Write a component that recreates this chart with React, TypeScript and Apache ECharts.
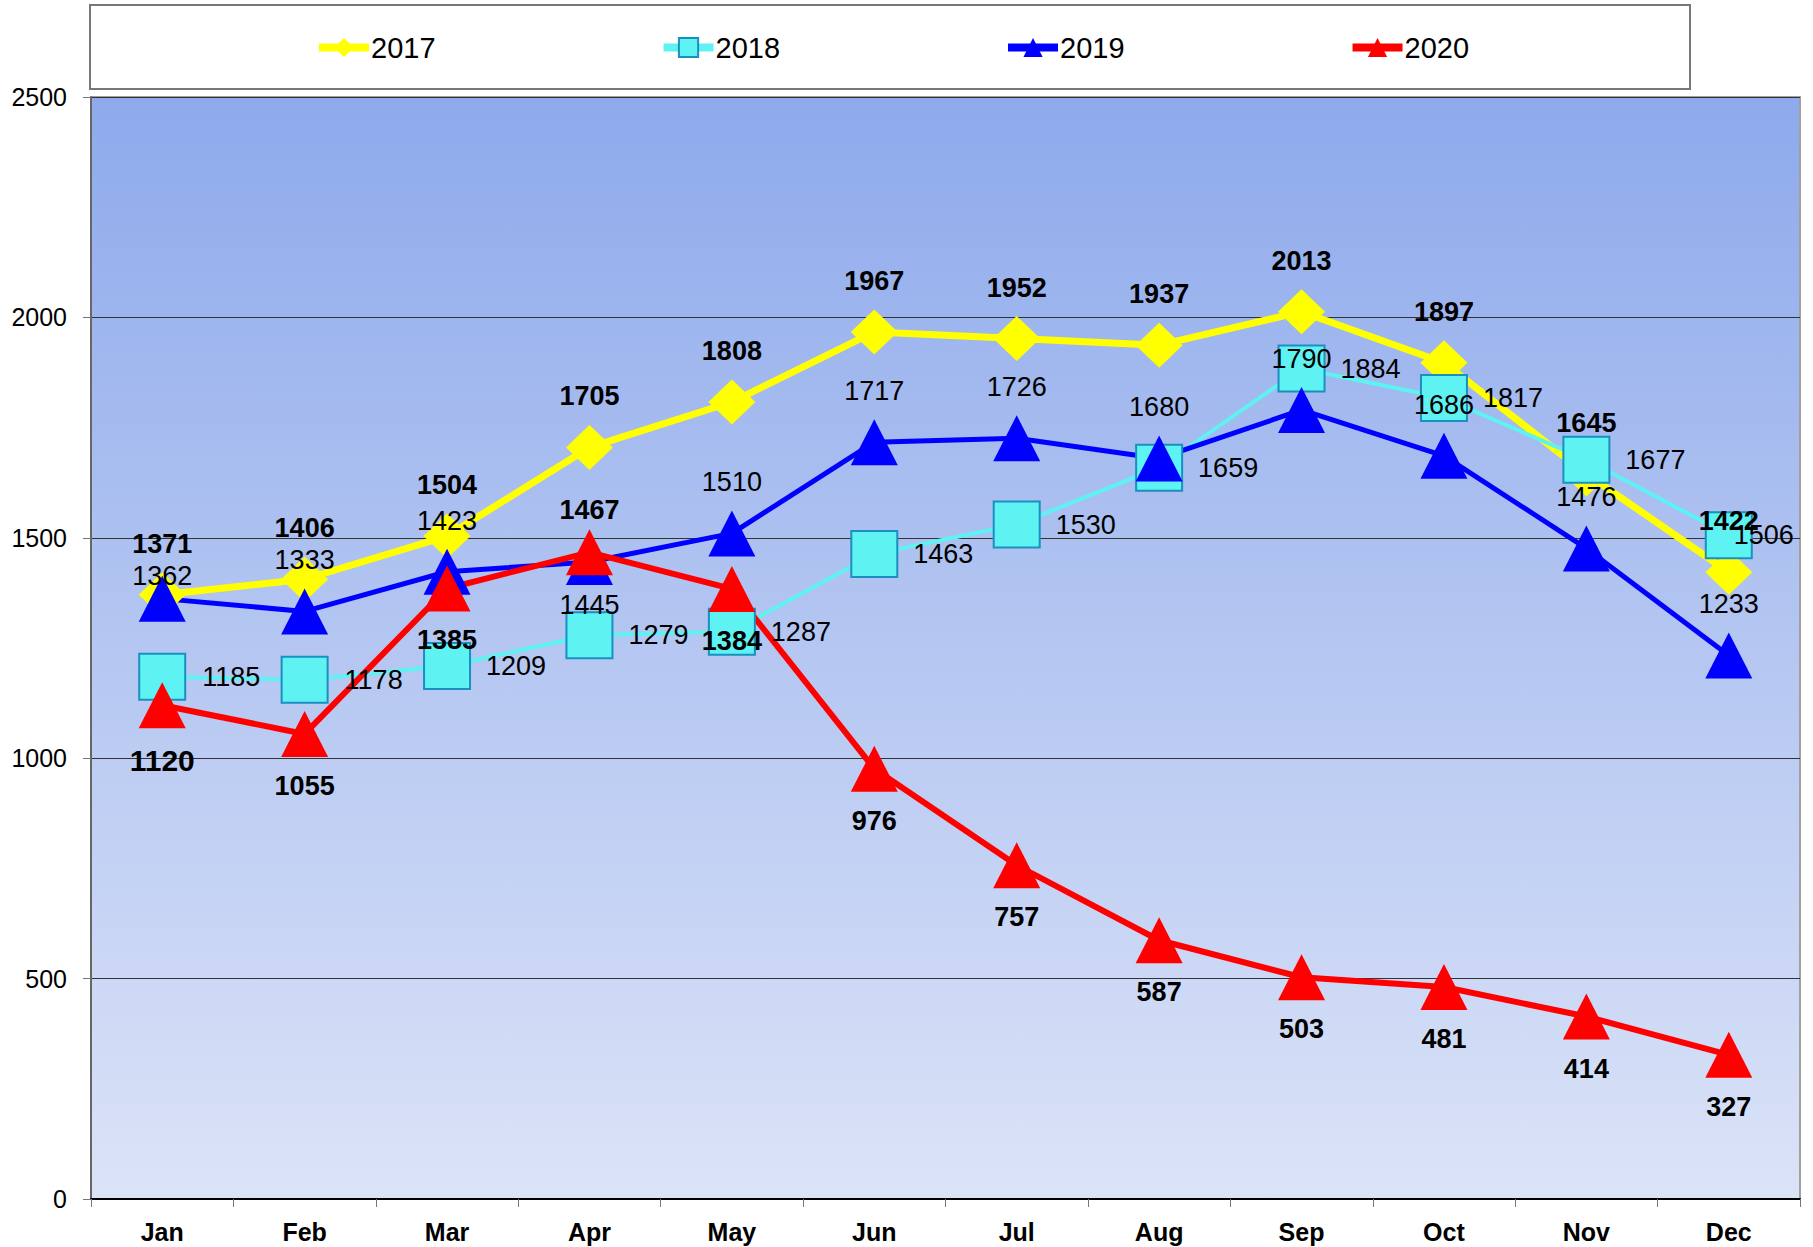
import React, { useEffect, useRef } from "react";
import * as echarts from "echarts";

const months = ["Jan", "Feb", "Mar", "Apr", "May", "Jun", "Jul", "Aug", "Sep", "Oct", "Nov", "Dec"];
const seriesNames = ["2017", "2018", "2019", "2020"];
const v2017 = [1371, 1406, 1504, 1705, 1808, 1967, 1952, 1937, 2013, 1897, 1645, 1422];
const v2018 = [1185, 1178, 1209, 1279, 1287, 1463, 1530, 1659, 1884, 1817, 1677, 1506];
const v2019 = [1362, 1333, 1423, 1445, 1510, 1717, 1726, 1680, 1790, 1686, 1476, 1233];
const v2020 = [1120, 1055, 1385, 1467, 1384, 976, 757, 587, 503, 481, 414, 327];
const yTicks = { min: 0, max: 2500, interval: 500 };

// label placement (style config, not data)
const off2017 = months.map(() => [0, -51]);
const off2018 = months.map((_, i) => (i === 11 ? [35, 0] : [69, 0]));
const off2019 = months.map((_, i) => (i === 0 ? [0, -23] : i === 3 ? [0, 43] : [0, -51]));
const off2020 = months.map((_, i) => (i === 0 ? [0, 55] : i === 3 ? [0, -42] : [0, 52]));
const size2020 = months.map((_, i) => (i === 0 ? 30 : 27));

const FONT = '"Liberation Sans", Arial, sans-serif';

function mkData(vals: number[], offs: number[][], sizes?: number[]) {
  return vals.map((v, i) => ({
    value: v,
    label: { offset: offs[i], ...(sizes ? { fontSize: sizes[i] } : {}) },
  }));
}

export default function App() {
  const ref = useRef<HTMLDivElement>(null);
  useEffect(() => {
    document.body.style.margin = "0";
    const chart = echarts.init(ref.current!, null, { renderer: "svg" });
    const baseLabel = {
      show: true,
      position: "inside",
      color: "#000",
      fontFamily: FONT,
      fontSize: 27,
    };
    chart.setOption({
      animation: false,
      backgroundColor: "#fff",
      textStyle: { fontFamily: FONT },
      graphic: [
        {
          type: "rect",
          z: 0,
          shape: { x: 90, y: 5, width: 1600, height: 84 },
          style: { fill: "#fff", stroke: "#777", lineWidth: 2 },
        },
      ],
      legend: {
        left: 315,
        top: 33,
        padding: 0,
        itemGap: 224,
        itemWidth: 50,
        itemHeight: 24,
        data: seriesNames,
        lineStyle: { width: 8 },
        textStyle: { fontSize: 29, color: "#000", fontFamily: FONT, padding: [0, 0, 0, -3] },
      },
      grid: {
        left: 91,
        right: 13,
        top: 97,
        bottom: 48,
        show: true,
        borderColor: "#a0a0a0",
        borderWidth: 2,
        backgroundColor: {
          type: "linear",
          x: 0,
          y: 0,
          x2: 0,
          y2: 1,
          colorStops: [
            { offset: 0, color: "#8eaaec" },
            { offset: 1, color: "#dbe3f7" },
          ],
        },
      },
      xAxis: {
        type: "category",
        data: months,
        boundaryGap: true,
        axisLine: { lineStyle: { color: "#000", width: 2 } },
        axisTick: { show: true, length: 8, lineStyle: { color: "#777" } },
        axisLabel: { fontSize: 25, fontWeight: "bold", color: "#000", margin: 20, fontFamily: FONT },
        splitLine: { show: false },
      },
      yAxis: {
        type: "value",
        min: yTicks.min,
        max: yTicks.max,
        interval: yTicks.interval,
        axisLine: { show: true, lineStyle: { color: "#666", width: 2 } },
        axisTick: { show: true, length: 8, lineStyle: { color: "#777" } },
        axisLabel: {
          fontSize: 25,
          color: "#000",
          margin: 24,
          fontFamily: FONT,
          formatter: (v: number) => String(v),
        },
        splitLine: { show: true, lineStyle: { color: "#333", width: 1 } },
      },
      series: [
        {
          name: "2017",
          type: "line",
          data: mkData(v2017, off2017),
          symbol: "diamond",
          symbolSize: [47, 45],
          itemStyle: { color: "#ffff00" },
          lineStyle: { color: "#ffff00", width: 7 },
          label: { ...baseLabel, fontWeight: "bold" },
        },
        {
          name: "2018",
          type: "line",
          data: mkData(v2018, off2018),
          symbol: "rect",
          symbolSize: 46,
          itemStyle: { color: "#5ef2f2", borderColor: "#1a90c0", borderWidth: 2 },
          lineStyle: { color: "#5ef2f2", width: 4 },
          label: { ...baseLabel, fontWeight: "normal" },
        },
        {
          name: "2019",
          type: "line",
          data: mkData(v2019, off2019),
          symbol: "triangle",
          symbolSize: [47, 46],
          itemStyle: { color: "#0000ff" },
          lineStyle: { color: "#0000ff", width: 5 },
          label: { ...baseLabel, fontWeight: "normal" },
        },
        {
          name: "2020",
          type: "line",
          data: mkData(v2020, off2020, size2020),
          symbol: "triangle",
          symbolSize: [47, 46],
          itemStyle: { color: "#ff0000" },
          lineStyle: { color: "#ff0000", width: 6 },
          label: { ...baseLabel, fontWeight: "bold" },
        },
      ],
    });
    return () => chart.dispose();
  }, []);
  return (
    <div
      ref={ref}
      style={{ position: "fixed", left: 0, top: 0, width: 1813, height: 1247 }}
    />
  );
}
